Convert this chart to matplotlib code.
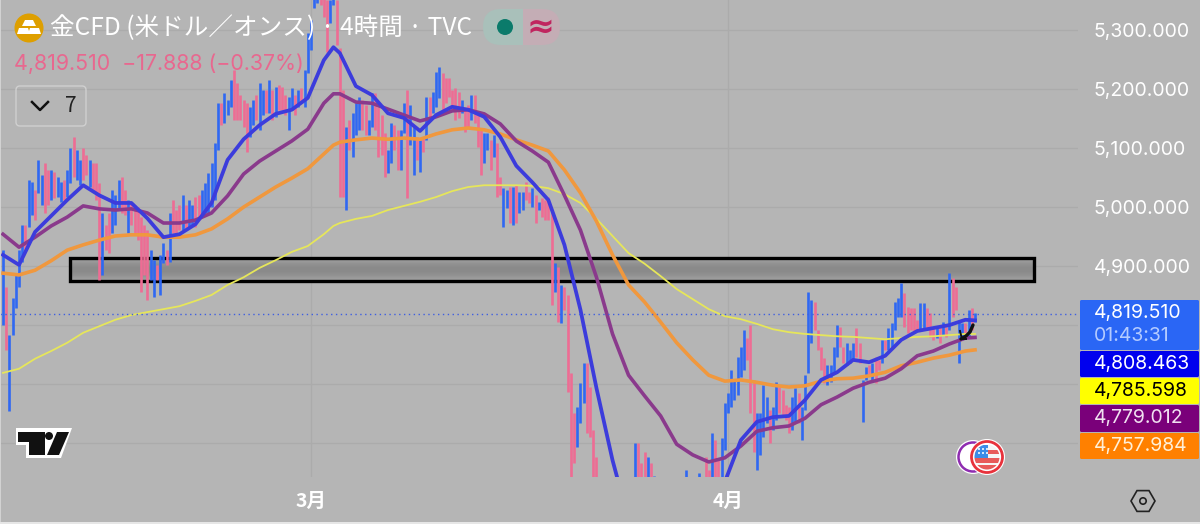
import matplotlib
matplotlib.use('Agg')
import matplotlib.pyplot as plt
from matplotlib.patches import Rectangle, Circle, Polygon, FancyBboxPatch, RegularPolygon

plt.rcParams['font.family'] = ['Noto Sans CJK JP', 'DejaVu Sans']

# 4h candles (one value per bar, bars below the pane are estimates)
bar_high = [
    4927, 4864, 4783, 4846, 4885, 4927, 4970, 4970, 5046, 5042,
    5029, 5080, 5054, 5075, 5063, 5063, 5059, 5051, 5042, 5046,
    5063, 5100, 5119, 5097, 5080, 5100, 5088, 5080, 5075, 5075,
    5041, 4990, 4970, 4990, 5029, 5020, 5046, 5051, 5029, 5012,
    5007, 5004, 5000, 4983, 4970, 4961, 4927, 4910, 4902, 4919,
    4939, 4927, 4990, 5012, 4995, 5004, 5020, 5004, 5012, 5004,
    5017, 5020, 5029, 5041, 5058, 5075, 5109, 5176, 5176, 5193,
    5181, 5215, 5232, 5210, 5190, 5181, 5176, 5170, 5181, 5190,
    5210, 5198, 5198, 5215, 5198, 5204, 5207, 5204, 5190, 5187,
    5202, 5190, 5198, 5202, 5232, 5295, 5317, 5368, 5376, 5376,
    5359, 5351, 5351, 5359, 5351, 5270, 5198, 5136, 5148, 5159,
    5176, 5187, 5181, 5173, 5148, 5193, 5193, 5170, 5156, 5126,
    5097, 5143, 5139, 5131, 5131, 5176, 5198, 5173, 5136, 5119,
    5114, 5119, 5187, 5187, 5195, 5229, 5237, 5227, 5219, 5219,
    5198, 5202, 5195, 5181, 5170, 5173, 5190, 5190, 5156, 5131,
    5126, 5126, 5114, 5122, 5109, 5051, 5032, 5029, 5034, 5034,
    5037, 5026, 5026, 5042, 5026, 5032, 5020, 5009, 5015, 5012,
    5017, 4992, 4905, 4898, 4868, 4864, 4851, 4719, 4651, 4661,
    4702, 4736, 4736, 4695, 4622, 4576, 4530, 4510, 4500, 4490,
    4505, 4520, 4515, 4500, 4505, 4520, 4530, 4600, 4600, 4566,
    4585, 4576, 4566, 4544, 4530, 4525, 4515, 4510, 4520, 4530,
    4525, 4535, 4530, 4554, 4530, 4525, 4530, 4549, 4535, 4576,
    4554, 4617, 4605, 4571, 4609, 4668, 4685, 4724, 4707, 4746,
    4763, 4792, 4778, 4800, 4707, 4651, 4651, 4698, 4678, 4656,
    4661, 4703, 4695, 4690, 4665, 4661, 4678, 4693, 4685, 4661,
    4715, 4856, 4842, 4839, 4792, 4763, 4744, 4732, 4732, 4763,
    4800, 4797, 4763, 4770, 4758, 4770, 4795, 4770, 4707, 4729,
    4732, 4736, 4746, 4741, 4775, 4775, 4795, 4804, 4839, 4846,
    4871, 4854, 4831, 4829, 4829, 4809, 4837, 4837, 4829, 4820,
    4797, 4795, 4797, 4805, 4797, 4888, 4880, 4864, 4805, 4804,
    4804, 4826, 4829, 4820]
bar_low = [
    4800, 4758, 4654, 4783, 4829, 4864, 4907, 4927, 4966, 4987,
    4978, 5024, 5004, 4990, 5004, 5012, 5015, 5017, 5009, 5012,
    5017, 5041, 5051, 5046, 5037, 5046, 5054, 5034, 5029, 5012,
    4876, 4885, 4927, 4922, 4956, 4970, 4995, 4990, 4987, 4956,
    4970, 4956, 4944, 4856, 4885, 4842, 4876, 4848, 4876, 4851,
    4905, 4902, 4907, 4956, 4953, 4961, 4961, 4965, 4966, 4970,
    4966, 4978, 4983, 4990, 4990, 5000, 5012, 5097, 5139, 5143,
    5156, 5170, 5148, 5148, 5148, 5136, 5093, 5119, 5139, 5148,
    5131, 5156, 5159, 5159, 5148, 5153, 5165, 5165, 5156, 5131,
    5165, 5156, 5170, 5176, 5170, 5227, 5266, 5337, 5346, 5343,
    5322, 5263, 5312, 5343, 5275, 5017, 5017, 4995, 5097, 5085,
    5122, 5131, 5131, 5122, 5122, 5136, 5131, 5085, 5088, 5051,
    5058, 5075, 5097, 5063, 5063, 5126, 5015, 5105, 5054, 5080,
    5059, 5093, 5114, 5153, 5159, 5170, 5185, 5165, 5176, 5187,
    5165, 5148, 5151, 5159, 5127, 5136, 5148, 5143, 5102, 5054,
    5075, 5097, 5063, 5085, 5017, 5020, 4966, 4998, 4973, 4970,
    4973, 4990, 4995, 5012, 5007, 5000, 4973, 4995, 4983, 4978,
    4978, 4834, 4856, 4805, 4804, 4826, 4687, 4529, 4566, 4593,
    4634, 4668, 4617, 4610, 4529, 4520, 4490, 4470, 4450, 4445,
    4460, 4475, 4470, 4455, 4465, 4480, 4490, 4512, 4512, 4503,
    4503, 4520, 4520, 4520, 4500, 4490, 4480, 4470, 4485, 4495,
    4490, 4500, 4495, 4520, 4495, 4490, 4495, 4515, 4500, 4520,
    4512, 4512, 4512, 4520, 4520, 4588, 4651, 4661, 4673, 4681,
    4712, 4724, 4741, 4651, 4585, 4554, 4580, 4610, 4634, 4600,
    4622, 4639, 4651, 4644, 4639, 4617, 4622, 4634, 4634, 4605,
    4656, 4719, 4770, 4792, 4758, 4724, 4702, 4698, 4703, 4719,
    4746, 4763, 4736, 4732, 4736, 4741, 4746, 4736, 4636, 4707,
    4715, 4707, 4702, 4724, 4736, 4758, 4758, 4763, 4792, 4814,
    4814, 4797, 4787, 4792, 4787, 4792, 4792, 4792, 4792, 4780,
    4775, 4778, 4770, 4783, 4780, 4792, 4814, 4826, 4736, 4775,
    4787, 4780, 4792, 4805]
# 1 = rising (blue), 0 = falling (pink)
bar_up = [
    1, 0, 1, 1, 1, 1, 1, 0, 1, 1,
    0, 1, 1, 0, 0, 1, 0, 1, 1, 0,
    1, 1, 0, 1, 1, 0, 0, 1, 0, 0,
    0, 1, 0, 0, 1, 1, 1, 0, 0, 1,
    0, 0, 0, 0, 0, 0, 1, 1, 0, 1,
    1, 0, 1, 0, 0, 0, 1, 0, 1, 1,
    0, 0, 1, 1, 1, 1, 1, 1, 0, 1,
    1, 1, 0, 0, 0, 0, 0, 1, 1, 0,
    1, 1, 0, 1, 0, 1, 0, 0, 0, 1,
    1, 0, 1, 0, 1, 1, 1, 1, 1, 0,
    0, 0, 1, 1, 0, 0, 0, 1, 0, 1,
    1, 1, 0, 0, 1, 1, 0, 0, 0, 0,
    1, 1, 0, 0, 1, 1, 0, 1, 1, 0,
    1, 0, 1, 0, 1, 1, 1, 0, 0, 0,
    0, 0, 0, 1, 0, 0, 1, 0, 0, 0,
    1, 1, 0, 1, 0, 0, 1, 1, 0, 1,
    0, 1, 1, 0, 0, 1, 0, 1, 0, 0,
    0, 0, 1, 0, 1, 0, 0, 0, 0, 1,
    1, 1, 0, 0, 0, 0, 0, 0, 0, 1,
    1, 1, 0, 0, 1, 1, 1, 1, 0, 0,
    0, 1, 0, 1, 0, 0, 0, 1, 1, 0,
    1, 1, 0, 1, 0, 0, 1, 1, 0, 0,
    0, 1, 0, 0, 1, 1, 1, 1, 1, 1,
    1, 1, 0, 0, 0, 1, 1, 1, 1, 0,
    1, 1, 0, 0, 0, 0, 1, 1, 0, 1,
    1, 1, 1, 0, 0, 0, 0, 1, 1, 1,
    1, 0, 0, 1, 1, 1, 0, 0, 1, 1,
    0, 1, 0, 0, 1, 0, 1, 1, 1, 1,
    1, 0, 0, 0, 0, 0, 1, 1, 0, 0,
    0, 1, 0, 1, 0, 1, 0, 0, 1, 1,
    0, 1, 0, 1]

# moving averages, sampled every few bars
ema_idx = list(range(0, 101, 5)) + [103] + list(range(105, 301, 5)) + [303]
ema_blue = [
    4919, 4902, 4958, 4985, 5012, 5037, 5020, 5007, 5007, 4981,
    4949, 4954, 4971, 5007, 5080, 5115, 5139, 5158, 5165, 5185,
    5249, 5271, 5261, 5205, 5190, 5159, 5151, 5129, 5156, 5170,
    5165, 5153, 5119, 5070, 5042, 5012, 4936, 4826, 4693, 4571,
    4470, 4410, 4376, 4368, 4385, 4453, 4534, 4605, 4636, 4644,
    4646, 4673, 4707, 4720, 4741, 4737, 4748, 4775, 4790, 4795,
    4800, 4809, 4808]
ema_purple = [
    4954, 4932, 4949, 4968, 4983, 5002, 4997, 4995, 4997, 4990,
    4973, 4973, 4978, 4990, 5019, 5056, 5078, 5095, 5112, 5132,
    5176, 5192, 5192, 5178, 5176, 5166, 5156, 5146, 5153, 5163,
    5165, 5158, 5141, 5112, 5095, 5076, 5020, 4961, 4881, 4785,
    4715, 4680, 4646, 4598, 4580, 4568, 4575, 4595, 4620, 4626,
    4629, 4642, 4665, 4678, 4693, 4703, 4710, 4726, 4748, 4756,
    4768, 4778, 4779]
ema_orange = [
    4888, 4885, 4893, 4909, 4927, 4936, 4944, 4951, 4953, 4953,
    4949, 4949, 4953, 4963, 4980, 5000, 5017, 5034, 5049, 5065,
    5090, 5105, 5110, 5114, 5117, 5115, 5117, 5115, 5124, 5131,
    5134, 5131, 5124, 5114, 5105, 5095, 5063, 5024, 4976, 4919,
    4868, 4839, 4805, 4770, 4741, 4715, 4705, 4707, 4703, 4698,
    4695, 4697, 4705, 4709, 4710, 4714, 4720, 4731, 4737, 4744,
    4749, 4756, 4758]
ema_yellow = [
    4719, 4726, 4743, 4756, 4770, 4787, 4798, 4809, 4817, 4822,
    4827, 4832, 4841, 4851, 4868, 4881, 4897, 4910, 4924, 4934,
    4954, 4968, 4973, 4980, 4985, 4995, 5002, 5009, 5017, 5027,
    5034, 5037, 5037, 5037, 5036, 5032, 5022, 5007, 4980, 4951,
    4922, 4904, 4883, 4861, 4844, 4827, 4815, 4810, 4802, 4793,
    4788, 4785, 4783, 4781, 4780, 4778, 4776, 4778, 4780, 4781,
    4783, 4785, 4785]

price_ticks = [5300, 5200, 5100, 5000, 4900, 4800, 4700, 4600]
price_labels = ['5,300.000', '5,200.000', '5,100.000', '5,000.000', '4,900.000', '', '', '']
month_idx = [96, 226]
month_labels = ['3月', '4月']
last_price = 4819.51
zone_low, zone_high = 4875, 4913
zone_start, zone_end = 21, 321.4

# value boxes on the price scale: top, bottom, face colour, text colour, text
box_tops = [300, 351, 378, 405, 433]
box_bottoms = [350, 377, 404, 432, 459]
box_faces = ['#2A66F5', '#0000EE', '#FFFF00', '#7A007A', '#FF8000']
box_texts = ['4,819.510', '4,808.463', '4,785.598', '4,779.012', '4,757.984']
box_text_colors = ['white', 'white', 'black', '#F0E0F0', '#FFF0D8']

GREY = '#B5B5B5'
GRID = '#ABABAB'
SCALE_FONT = 14.0

fig = plt.figure(figsize=(12, 5.24), dpi=100, facecolor=GREY)
ax = fig.add_axes([0, 1 - 477 / 524, 1078 / 1200, 477 / 524], facecolor=GREY)

# grey zone first so that candles and averages lie over it
ax.imshow([[0.62], [0.57], [0.54], [0.54], [0.57], [0.62]], cmap='gray', vmin=0, vmax=1,
          extent=(zone_start, zone_end, zone_low, zone_high), aspect='auto',
          interpolation='bilinear', zorder=1)
ax.add_patch(Rectangle((zone_start, zone_low), zone_end - zone_start, zone_high - zone_low,
                       facecolor='none', edgecolor='black', linewidth=2.4, zorder=2))

colors = ['#2F68F2' if u else '#EE6C94' for u in bar_up]
ax.vlines(range(len(bar_high)), bar_low, bar_high, colors=colors, linewidth=1.9, zorder=3)

ax.plot(ema_idx, ema_yellow, color='#E6E65A', linewidth=1.3, zorder=4, solid_joinstyle='round')
ax.plot(ema_idx, ema_orange, color='#F0983E', linewidth=2.6, zorder=5, solid_joinstyle='round')
ax.plot(ema_idx, ema_purple, color='#8A3A8C', linewidth=2.6, zorder=6, solid_joinstyle='round')
ax.plot(ema_idx, ema_blue, color='#3C3CDC', linewidth=2.7, zorder=7, solid_joinstyle='round')
ax.axhline(last_price, color='#3F5FE0', linestyle=(0, (1, 2.5)), linewidth=1.0, zorder=8)

ax.set_xlim(-0.94, 335.1)
ax.set_ylim(4542.5, 5351)
ax.set_yticks(price_ticks)
ax.set_yticklabels(price_labels, family=['Inter'])
ax.set_xticks(month_idx)
ax.set_xticklabels(month_labels, fontweight='bold')
ax.yaxis.tick_right()
ax.tick_params(axis='y', length=0, pad=11.5, labelcolor='white', labelsize=SCALE_FONT)
ax.tick_params(axis='x', length=0, pad=11, labelcolor='white', labelsize=14)
ax.grid(True, color=GRID, linewidth=1.0, zorder=0)
ax.set_axisbelow(True)
for s in ax.spines.values():
    s.set_visible(False)

# everything around the chart is drawn in pixel coordinates of the screenshot
ui = fig.add_axes([0, 0, 1, 1], facecolor='none')
ui.set_xlim(0, 1200)
ui.set_ylim(524, 0)
ui.axis('off')

# screenshot edges
ui.add_patch(Rectangle((0, 522), 1200, 2, facecolor='#E6E6E6', edgecolor='none'))
ui.add_patch(Rectangle((0, 0), 1.2, 522, facecolor='#D2D2D2', edgecolor='none'))

# gold icon and header
ui.add_patch(Circle((29, 28), 14.5, facecolor='#DE9F00', edgecolor='none'))
for pts in ([(25, 20), (33, 20), (36, 26), (22, 26)],
            [(19, 28), (28, 28), (30, 34), (17, 34)],
            [(30, 28), (39, 28), (41, 34), (28, 34)]):
    ui.add_patch(Polygon(pts, facecolor='white', edgecolor='none'))
ui.text(50, 28, '金CFD (米ドル／オンス) · 4時間 · TVC', color='white', fontsize=17.7, va='center', ha='left')
ui.text(14, 64, '4,819.510  −17.888 (−0.37%)', color='#E8688F', fontsize=15.4, va='center', ha='left',
        family=['Inter'])

# status pill, split in a green and a pink half
pill = FancyBboxPatch((483, 9), 77, 36, boxstyle='round,pad=0,rounding_size=18', transform=ui.transData,
                      facecolor='none', edgecolor='none')
ui.add_patch(pill)
for x0, w, c in ((483, 40, '#A9C0BA'), (523, 37, '#C4ADB5')):
    half = Rectangle((x0, 9), w, 36, facecolor=c, edgecolor='none')
    ui.add_patch(half)
    half.set_clip_path(pill)
ui.add_patch(Circle((505, 27), 8, facecolor='#0B7B6B', edgecolor='none'))
ui.text(541, 27, '≈', color='#C0255F', fontsize=24, va='center', ha='center', fontweight='bold',
        family=['DejaVu Sans'])

# collapse button
ui.add_patch(FancyBboxPatch((16, 86), 70, 40, boxstyle='round,pad=0,rounding_size=4',
                            facecolor='none', edgecolor='#D0D0D0', linewidth=1.0))
ui.plot([32, 40, 48], [102, 110, 102], color='#111111', linewidth=1.8)
ui.text(71, 106, '7', color='#222222', fontsize=15, va='center', ha='center')

# logo
ui.add_patch(Polygon([(16, 428), (72, 428), (61, 458), (26, 458), (26, 445), (16, 445)],
                     facecolor='white', edgecolor='none'))
for pts in ([(18, 432), (45, 432), (45, 455), (29, 455), (29, 442), (18, 442)],
            [(57, 432), (69, 432), (59, 455), (47, 455)]):
    ui.add_patch(Polygon(pts, facecolor='#111111', edgecolor='none'))
ui.add_patch(Circle((49, 436), 4, facecolor='#111111', edgecolor='none'))

# small black drawing mark at the last bars
ui.plot([973, 970, 966, 961], [325, 332, 336, 339], color='#111111', linewidth=2.4, solid_capstyle='round')
ui.plot([960, 962, 966], [331, 339, 339], color='#111111', linewidth=1.4)

# value boxes
for top, bottom, face, tcol, txt in zip(box_tops, box_bottoms, box_faces, box_text_colors, box_texts):
    ui.add_patch(FancyBboxPatch((1080, top), 119, bottom - top, boxstyle='round,pad=0,rounding_size=1.5',
                                facecolor=face, edgecolor='none'))
    yc = 313 if top == 300 else (top + bottom) / 2
    ui.text(1094, yc, txt, color=tcol, fontsize=SCALE_FONT, va='center', ha='left', family=['Inter'])
ui.text(1094, 336, '01:43:31', color='#B4CBFF', fontsize=SCALE_FONT, va='center', ha='left', family=['Inter'])

# event icons
ui.add_patch(Circle((973, 457), 17, facecolor='white', edgecolor='none'))
ui.add_patch(Circle((973, 457), 14.5, facecolor='white', edgecolor='#8E2CB0', linewidth=1.8))
ui.add_patch(Circle((987, 457), 18, facecolor='white', edgecolor='none'))
ui.add_patch(Circle((987, 457), 15.5, facecolor='white', edgecolor='#E8323C', linewidth=2))
flag = Circle((987, 457), 12.5, transform=ui.transData)
for y0, h, c, x0, w in ((445, 25, '#F5F5F5', 974, 26), (450, 4, '#E85A5A', 974, 26), (458, 5, '#E85A5A', 974, 26),
                        (465, 6, '#E85A5A', 974, 26), (445, 13, '#3C8CE8', 974, 14)):
    r = Rectangle((x0, y0), w, h, facecolor=c, edgecolor='none')
    ui.add_patch(r)
    r.set_clip_path(flag)
for dx in (979, 983, 987):
    for dy in (449, 453):
        ui.add_patch(Circle((dx, dy), 1, facecolor='white', edgecolor='none'))

# settings hexagon
ui.add_patch(RegularPolygon((1143, 501), 6, radius=12, orientation=0.5236, facecolor='none',
                            edgecolor='#222222', linewidth=1.2))
ui.add_patch(Circle((1143, 501), 3.2, facecolor='none', edgecolor='#222222', linewidth=1.2))

fig.savefig('out.png', dpi=100, facecolor=GREY)
